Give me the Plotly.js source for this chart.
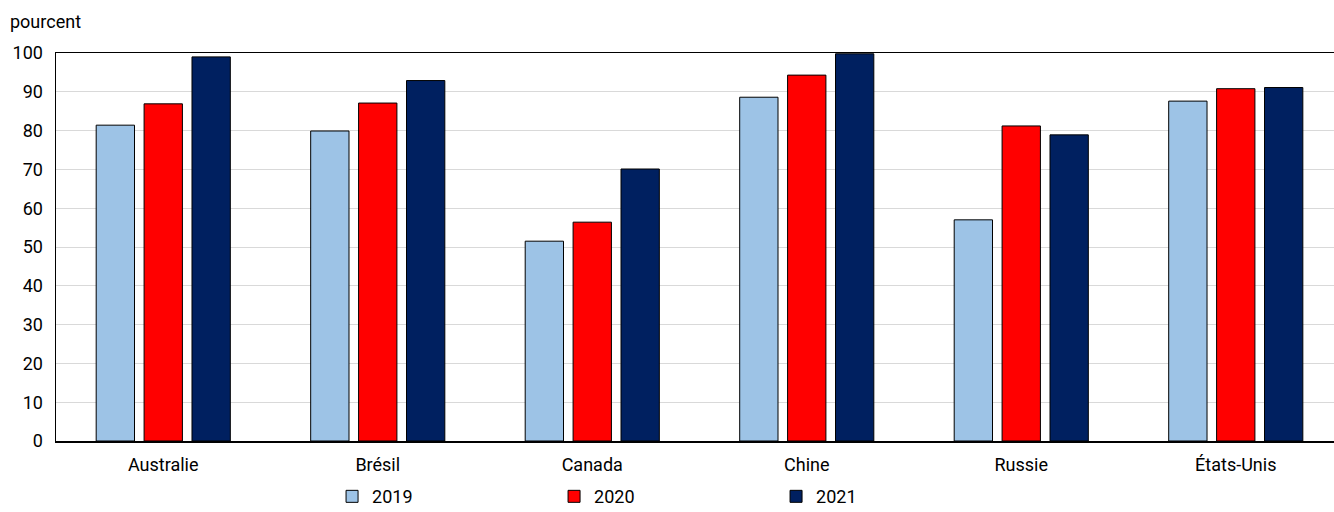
<!DOCTYPE html>
<html><head><meta charset="utf-8">
<script src="https://cdn.plot.ly/plotly-3.0.1.min.js"></script>
<style>html,body{margin:0;padding:0;background:#fff}#chart{width:1334px;height:512px}</style>
</head><body><div id="chart"></div>
<script>
const categories = ["Australie", "Brésil", "Canada", "Chine", "Russie", "États-Unis"];
const years = ["2019", "2020", "2021"];
const values2019 = [81.4, 79.9, 51.5, 88.6, 57.0, 87.6];
const values2020 = [86.9, 87.1, 56.4, 94.3, 81.2, 90.8];
const values2021 = [99.0, 92.9, 70.1, 99.8, 78.9, 91.1];
const colors = ["#9dc3e6", "#ff0000", "#002060"];
const series = [values2019, values2020, values2021];
const FONT = "Roboto, 'Liberation Sans', sans-serif";

const data = series.map((vals, i) => ({
  type: "bar", name: years[i], x: categories, y: vals,
  marker: {color: colors[i], line: {color: "#000", width: 1}},
  hoverinfo: "skip"
}));

const layout = {
  width: 1334, height: 512,
  margin: {l: 56, r: 0, t: 53, b: 71, autoexpand: false},
  paper_bgcolor: "#fff", plot_bgcolor: "#fff",
  font: {family: FONT, size: 18, color: "#000"},
  barmode: "group", bargap: 0.33, bargroupgap: 0.2,
  showlegend: true,
  legend: {orientation: "h", x: 0.216, xanchor: "left", yref: "container", y: 0.03, yanchor: "middle",
    entrywidth: 177, entrywidthmode: "pixels", font: {family: FONT, size: 18},
    itemwidth: 30, traceorder: "normal", bgcolor: "rgba(0,0,0,0)", borderwidth: 0},
  xaxis: {showline: true, linecolor: "#000", linewidth: 1.5, mirror: true, range: [-0.5, 5.458],
    ticks: "", ticklabelstandoff: 7, tickfont: {family: FONT, size: 18}, showgrid: false, fixedrange: true},
  yaxis: {range: [0, 100], dtick: 10, showline: true, linecolor: "#000", linewidth: 1.5,
    gridcolor: "#d9d9d9", gridwidth: 1, ticks: "", ticklabelstandoff: 8, zeroline: false,
    tickfont: {family: FONT, size: 18}, fixedrange: true},
  annotations: [{text: "pourcent", xref: "paper", yref: "paper", x: -0.0375, y: 1,
    xanchor: "left", yanchor: "bottom", yshift: 19, showarrow: false,
    font: {family: FONT, size: 18}}]
};
Plotly.newPlot("chart", data, layout, {displayModeBar: false, staticPlot: true});
</script></body></html>
